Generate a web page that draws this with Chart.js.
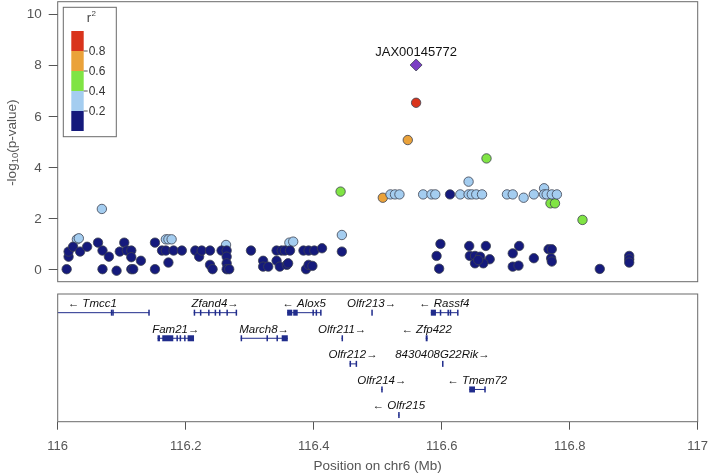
<!DOCTYPE html>
<html>
<head>
<meta charset="utf-8">
<title>Regional association plot, chr6</title>
<script src="https://cdn.jsdelivr.net/npm/chart.js@4.4.1/dist/chart.umd.min.js"></script>
<style>
  html, body { margin: 0; padding: 0; background: #fff; }
  #wrap { position: relative; width: 711px; height: 475px; }
  canvas { position: absolute; left: 0; }
  #chart-assoc { top: 0; }
  #chart-genes { top: 290px; }
</style>
</head>
<body>
<div id="wrap">
  <canvas id="chart-assoc" width="711" height="290"></canvas>
  <canvas id="chart-genes" width="711" height="185"></canvas>
</div>
<script>
/* ===== Data ===== */

// SNPs by r2 class: position (Mb) and -log10(p)
const navyPos = [
  116.014, 116.017, 116.017, 116.024, 116.035, 116.046, 116.063, 116.070, 116.070, 116.080,
  116.092, 116.097, 116.104, 116.108, 116.115, 116.115, 116.115, 116.118, 116.130, 116.152,
  116.152, 116.163, 116.169, 116.181, 116.173, 116.194, 116.215, 116.221, 116.225, 116.238,
  116.238, 116.242, 116.256, 116.264, 116.264, 116.264, 116.264, 116.268, 116.302, 116.321,
  116.321, 116.329, 116.342, 116.342, 116.347, 116.350, 116.355, 116.358, 116.363, 116.360,
  116.384, 116.392, 116.388, 116.392, 116.398, 116.401, 116.413, 116.444, 116.613, 116.598,
  116.592, 116.596, 116.643, 116.669, 116.644, 116.652, 116.660, 116.675, 116.652, 116.665,
  116.657, 116.721, 116.711, 116.711, 116.720, 116.744, 116.767, 116.772, 116.771, 116.772,
  116.847, 116.893, 116.893, 116.893
];
const navyLogP = [
  0.03, 0.52, 0.72, 0.91, 0.72, 0.91, 1.07, 0.76, 0.03, 0.52,
  -0.03, 0.72, 1.07, 0.76, 0.76, 0.50, 0.03, 0.03, 0.36, 0.03,
  1.07, 0.76, 0.76, 0.76, 0.29, 0.76, 0.76, 0.52, 0.76, 0.76,
  0.20, 0.03, 0.76, 0.76, 0.52, 0.26, 0.03, 0.03, 0.76, 0.36,
  0.13, 0.13, 0.76, 0.36, 0.13, 0.76, 0.76, 0.20, 0.76, 0.26,
  0.76, 0.76, 0.03, 0.20, 0.16, 0.76, 0.85, 0.72, 2.96, 1.02,
  0.55, 0.05, 0.94, 0.94, 0.55, 0.55, 0.52, 0.42, 0.26, 0.26,
  0.39, 0.94, 0.65, 0.13, 0.17, 0.46, 0.81, 0.81, 0.46, 0.33,
  0.04, 0.55, 0.42, 0.29
];
const lightPos = [
  116.030, 116.033, 116.069, 116.169, 116.173, 116.178, 116.263, 116.362, 116.368, 116.444,
  116.520, 116.527, 116.534, 116.571, 116.584, 116.590, 116.629, 116.642, 116.642, 116.647,
  116.654, 116.663, 116.702, 116.711, 116.728, 116.744, 116.760, 116.760, 116.764, 116.772,
  116.780
];
const lightLogP = [
  1.20, 1.24, 2.39, 1.20, 1.20, 1.20, 0.98, 1.07, 1.11, 1.37,
  2.96, 2.96, 2.96, 2.96, 2.96, 2.96, 2.96, 3.46, 2.96, 2.96,
  2.96, 2.96, 2.96, 2.96, 2.83, 2.96, 3.20, 2.96, 2.96, 2.96,
  2.96
];
const greenPos = [116.442, 116.670, 116.770, 116.777, 116.820];
const greenLogP = [3.07, 4.37, 2.61, 2.61, 1.96];
const orangePos = [116.547, 116.508];
const orangeLogP = [5.09, 2.83];
const redPos = [116.560];
const redLogP = [6.55];
const leadSnp = 'JAX00145772';
const leadPos = [116.560];
const leadLogP = [8.03];

// tick labels
const yTicks = [0, 2, 4, 6, 8, 10];
const xTicks = [116, 116.2, 116.4, 116.6, 116.8, 117];
const legendBreaks = ['0.8', '0.6', '0.4', '0.2'];

// genes: name, extent (Mb), strand, track row, exons (Mb)
const geneNames = ['Tmcc1', 'Zfand4', 'Alox5', 'Olfr213', 'Rassf4', 'Fam21', 'March8',
  'Olfr211', 'Zfp422', 'Olfr212', '8430408G22Rik', 'Olfr214', 'Tmem72', 'Olfr215'];
const geneStart = [115.965, 116.2125, 116.3585, 116.4900, 116.583, 116.156, 116.2858,
  116.4435, 116.575, 116.456, 116.6005, 116.5055, 116.643, 116.532];
const geneEnd = [116.143, 116.2795, 116.4115, 116.4910, 116.625, 116.213, 116.3595,
  116.4455, 116.578, 116.467, 116.602, 116.5075, 116.668, 116.534];
const geneStrand = ['-', '+', '-', '+', '-', '+', '+', '+', '-', '+', '+', '+', '-', '-'];
const geneRow = [0, 0, 0, 0, 0, 1, 1, 1, 1, 2, 2, 3, 3, 4];
const geneExons = [
  [[116.0830, 116.0834], [116.0853, 116.0857], [116.1415, 116.1430]],
  [[116.2125, 116.2140], [116.2222, 116.2232], [116.2350, 116.2370], [116.2452, 116.2462],
   [116.2520, 116.2530], [116.2636, 116.2646], [116.2780, 116.2795]],
  [[116.3585, 116.3665], [116.3680, 116.3750], [116.3980, 116.3990], [116.4030, 116.4040],
   [116.4100, 116.4115]],
  [[116.4900, 116.4910]],
  [[116.5830, 116.5910], [116.5970, 116.5980], [116.6090, 116.6100], [116.6125, 116.6135],
   [116.6240, 116.6250]],
  [[116.1560, 116.1598], [116.1634, 116.1806], [116.1855, 116.1865], [116.1905, 116.1915],
   [116.1975, 116.1985], [116.2030, 116.2130]],
  [[116.2858, 116.2868], [116.3262, 116.3270], [116.3418, 116.3426], [116.3500, 116.3595]],
  [[116.4435, 116.4455]],
  [[116.5750, 116.5780]],
  [[116.4560, 116.4575], [116.4655, 116.4670]],
  [[116.6005, 116.6020]],
  [[116.5055, 116.5075]],
  [[116.6430, 116.6520], [116.6665, 116.6680]],
  [[116.5320, 116.5340]]
];

/* ===== Style ===== */
const FONT = "'Liberation Sans', Arial, Helvetica, sans-serif";
const axisGrey = '#555555';
const boxGrey = '#6a6a6a';
const cNavy = '#151a7c';
const cLight = '#a4cdf0';
const cGreen = '#80e444';
const cOrange = '#eaa23a';
const cRed = '#d9341c';
const cLead = '#7b40c4';
const geneColor = '#202c8c';

const PLOT_LEFT = 57.7;
const PLOT_RIGHT_PAD = 13.3;

function zip(xs, ys) {
  return xs.map((x, i) => ({ x: x, y: ys[i] }));
}

function snpSet(xs, ys, color, style, radius) {
  return {
    data: zip(xs, ys),
    backgroundColor: color,
    borderColor: '#3c4150',
    borderWidth: 0.8,
    pointStyle: style || 'circle',
    pointRadius: radius || 4.7,
    pointHoverRadius: radius || 4.7
  };
}

/* ===== Plugins ===== */
const assocDecor = {
  id: 'assocDecor',
  afterDatasetsDraw(chart) {
    const { ctx, chartArea: a, scales } = chart;
    ctx.save();

    // frame
    ctx.strokeStyle = boxGrey;
    ctx.lineWidth = 1;
    ctx.strokeRect(a.left, a.top, a.right - a.left, a.bottom - a.top);

    // lead SNP label
    const lx = scales.x.getPixelForValue(leadPos[0]);
    const ly = scales.y.getPixelForValue(leadLogP[0]);
    ctx.fillStyle = '#111';
    ctx.font = '13px ' + FONT;
    ctx.textAlign = 'center';
    ctx.textBaseline = 'middle';
    ctx.fillText(leadSnp, lx, ly - 13);

    // r2 legend
    const bx = a.left + 5.6, by = a.top + 5.6, bw = 53, bh = 129.4;
    ctx.fillStyle = '#fff';
    ctx.fillRect(bx, by, bw, bh);
    ctx.strokeStyle = boxGrey;
    ctx.strokeRect(bx, by, bw, bh);
    ctx.fillStyle = '#444';
    ctx.font = '13px ' + FONT;
    ctx.fillText('r', bx + 25.5, by + 11);
    ctx.font = '8px ' + FONT;
    ctx.fillText('2', bx + 30.5, by + 6);

    const cols = [cRed, cOrange, cGreen, cLight, cNavy];
    const sx = bx + 8, sw = 12.4, sy = by + 23.7, sh = 20;
    cols.forEach((c, i) => {
      ctx.fillStyle = c;
      ctx.fillRect(sx, sy + i * sh, sw, sh);
    });
    ctx.strokeStyle = axisGrey;
    ctx.fillStyle = '#333';
    ctx.font = '12px ' + FONT;
    ctx.textAlign = 'left';
    legendBreaks.forEach((t, i) => {
      const ty = sy + (i + 1) * sh;
      ctx.beginPath();
      ctx.moveTo(sx + sw, ty);
      ctx.lineTo(sx + sw + 4, ty);
      ctx.stroke();
      ctx.fillText(t, sx + sw + 5, ty + 0.5);
    });

    // y title with subscript
    ctx.translate(12, (a.top + a.bottom) / 2 + 1);
    ctx.rotate(-Math.PI / 2);
    ctx.fillStyle = axisGrey;
    const big = '13.5px ' + FONT, small = '9.5px ' + FONT;
    ctx.font = big;
    const w1 = ctx.measureText('-log').width;
    const w3 = ctx.measureText('(p-value)').width;
    ctx.font = small;
    const w2 = ctx.measureText('10').width;
    let x0 = -(w1 + w2 + w3) / 2;
    ctx.textAlign = 'left';
    ctx.font = big;
    ctx.fillText('-log', x0, 0);
    ctx.font = small;
    ctx.fillText('10', x0 + w1, 3.5);
    ctx.font = big;
    ctx.fillText('(p-value)', x0 + w1 + w2, 0);
    ctx.restore();
  }
};

const geneDecor = {
  id: 'geneDecor',
  afterDatasetsDraw(chart) {
    const { ctx, chartArea: a, scales } = chart;
    ctx.save();
    ctx.beginPath();
    ctx.rect(a.left, a.top, a.right - a.left, a.bottom - a.top);
    ctx.clip();

    // exons
    ctx.fillStyle = geneColor;
    geneExons.forEach((exons, g) => {
      const y = scales.y.getPixelForValue(geneRow[g]);
      exons.forEach(([s, e]) => {
        const x1 = scales.x.getPixelForValue(s);
        const x2 = Math.max(scales.x.getPixelForValue(e), x1 + 1.5);
        ctx.fillRect(x1, y - 3, x2 - x1, 6);
      });
    });

    // labels centred on gene, arrow shows strand
    ctx.fillStyle = '#111';
    ctx.font = 'italic 11.5px ' + FONT;
    ctx.textAlign = 'center';
    ctx.textBaseline = 'middle';
    geneNames.forEach((name, g) => {
      const mid = scales.x.getPixelForValue((geneStart[g] + geneEnd[g]) / 2);
      const y = scales.y.getPixelForValue(geneRow[g]) - 8.8;
      const txt = geneStrand[g] === '+' ? name + '\u2192' : '\u2190 ' + name;
      ctx.fillText(txt, mid, y);
    });
    ctx.restore();

    // frame + axis title
    ctx.save();
    ctx.strokeStyle = boxGrey;
    ctx.lineWidth = 1;
    ctx.strokeRect(a.left, a.top, a.right - a.left, a.bottom - a.top);
    ctx.fillStyle = axisGrey;
    ctx.font = '13.5px ' + FONT;
    ctx.textAlign = 'center';
    ctx.textBaseline = 'middle';
    ctx.fillText('Position on chr6 (Mb)', (a.left + a.right) / 2, a.bottom + 44.5);
    ctx.restore();
  }
};

/* ===== Association panel ===== */
new Chart(document.getElementById('chart-assoc'), {
  type: 'scatter',
  data: {
    datasets: [
      snpSet(navyPos, navyLogP, cNavy),
      snpSet(lightPos, lightLogP, cLight),
      snpSet(greenPos, greenLogP, cGreen),
      snpSet(orangePos, orangeLogP, cOrange),
      snpSet(redPos, redLogP, cRed),
      snpSet(leadPos, leadLogP, cLead, 'rectRot', 6)
    ]
  },
  options: {
    responsive: false,
    animation: false,
    layout: {
      autoPadding: false,
      padding: { top: 1.7, right: PLOT_RIGHT_PAD, bottom: 8.3, left: 0 }
    },
    plugins: { legend: { display: false }, tooltip: { enabled: false } },
    scales: {
      x: { type: 'linear', min: 116, max: 117, display: false },
      y: {
        type: 'linear',
        min: -0.46,
        max: 10.51,
        afterFit: (s) => {
          s.width = PLOT_LEFT;
          s.paddingTop = 0;
          s.paddingBottom = 0;
        },
        afterBuildTicks: (s) => { s.ticks = yTicks.map(v => ({ value: v })); },
        grid: { drawOnChartArea: false, tickLength: 9, color: axisGrey, lineWidth: 1 },
        border: { display: false },
        ticks: { color: axisGrey, padding: 7, font: { family: FONT, size: 13.5 } }
      }
    }
  },
  plugins: [assocDecor]
});

/* ===== Gene panel ===== */
new Chart(document.getElementById('chart-genes'), {
  type: 'scatter',
  data: {
    datasets: geneNames.map((n, g) => ({
      label: n,
      data: [{ x: geneStart[g], y: geneRow[g] }, { x: geneEnd[g], y: geneRow[g] }],
      showLine: true,
      borderColor: geneColor,
      borderWidth: 1,
      pointRadius: 0
    }))
  },
  options: {
    responsive: false,
    animation: false,
    layout: {
      autoPadding: false,
      padding: { top: 4, right: PLOT_RIGHT_PAD, bottom: 0, left: PLOT_LEFT }
    },
    plugins: { legend: { display: false }, tooltip: { enabled: false } },
    scales: {
      x: {
        type: 'linear',
        min: 116,
        max: 117,
        afterFit: (s) => {
          s.height = 53.3;
          s.paddingLeft = 0;
          s.paddingRight = 0;
        },
        afterBuildTicks: (s) => { s.ticks = xTicks.map(v => ({ value: v })); },
        grid: { drawOnChartArea: false, tickLength: 8, color: axisGrey, lineWidth: 1 },
        border: { display: false },
        ticks: {
          color: axisGrey,
          padding: 9,
          maxRotation: 0,
          font: { family: FONT, size: 13 },
          callback: (v) => String(Math.round(v * 10) / 10)
        }
      },
      y: { type: 'linear', min: -0.73, max: 4.26, reverse: true, display: false }
    }
  },
  plugins: [geneDecor]
});
</script>
</body>
</html>
